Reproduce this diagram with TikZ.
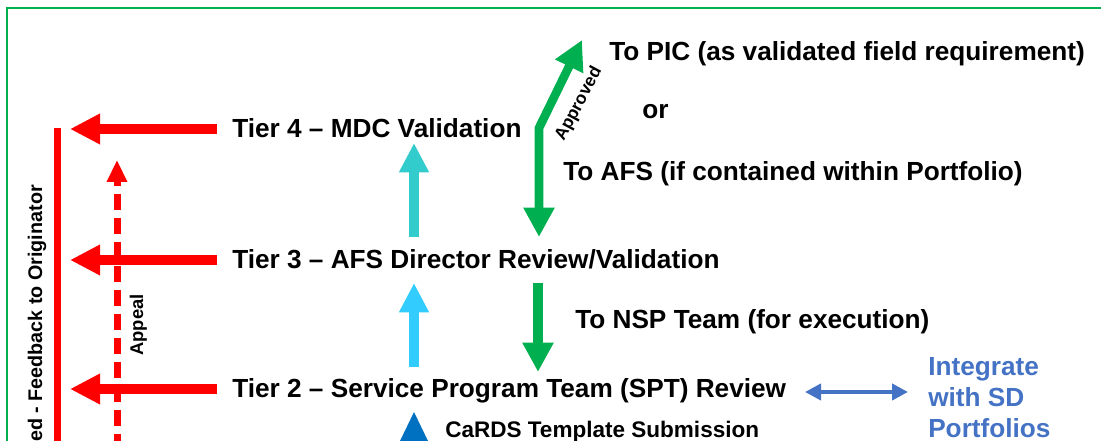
\documentclass[tikz,border=0pt]{standalone}
\usepackage{fontspec}
\setmainfont{Liberation Sans}
\usetikzlibrary{arrows.meta}
\definecolor{framegreen}{RGB}{0,176,80}
\definecolor{arrgreen}{RGB}{0,176,80}
\definecolor{arrred}{RGB}{255,0,0}
\definecolor{arrcyan}{RGB}{51,204,204}
\definecolor{arrsky}{RGB}{51,204,255}
\definecolor{sdblue}{RGB}{68,114,196}
\definecolor{triblue}{RGB}{0,112,192}
\tikzset{
  maintext/.style={inner sep=0pt, anchor=base west, font=\bfseries\fontsize{19.65pt}{23.25pt}\selectfont},
  smalltext/.style={inner sep=0pt, font=\bfseries\fontsize{14.8pt}{17pt}\selectfont},
  redarrow/.style={draw=arrred, line width=7.5pt, -{Triangle[length=22.5pt,width=21.5pt]}},
  bigarrow/.style={line width=7.5pt, -{Triangle[length=22pt,width=21pt]}},
  greenarrow/.style={draw=arrgreen, line width=6.5pt}
}
\begin{document}
\begin{tikzpicture}[x=0.75pt,y=-0.75pt]
\useasboundingbox (0,0) rectangle (1101,441);
\clip (0,0) rectangle (1101,441);
% frame
\draw[framegreen, line width=1.2pt] (7,450) -- (7,8) -- (1110,8);

% main texts
\node[maintext] (t4) at (232,138) {Tier 4 – MDC Validation};
\node[maintext] (t3) at (232,269) {Tier 3 – AFS Director Review/Validation};
\node[maintext] (t2) at (232,398) {Tier 2 – Service Program Team (SPT) Review};
\node[maintext] (pic) at (609,61) {To PIC (as validated field requirement)};
\node[maintext] (or) at (642,119) {or};
\node[maintext] (afs) at (563,181) {To AFS (if contained within Portfolio)};
\node[maintext] (nsp) at (575,329) {To NSP Team (for execution)};
\node[inner sep=0pt, anchor=north west, align=left, text=sdblue,
      font=\bfseries\fontsize{19.65pt}{23.25pt}\selectfont] (integ) at (928,357)
      {Integrate\\with SD\\Portfolios};
\node[inner sep=0pt, anchor=base west, font=\bfseries\fontsize{16.9pt}{20pt}\selectfont] (cards) at (445,438) {CaRDS Template Submission};

% rotated labels
\node[smalltext, rotate=90, anchor=base east] (feedback) at (42,185) {ed - Feedback to Originator};
\node[smalltext, font=\bfseries\fontsize{13.8pt}{16pt}\selectfont, rotate=90, anchor=base] (appeal) at (143,325) {Appeal};
\node[smalltext, font=\bfseries\fontsize{13pt}{15pt}\selectfont, rotate=62] (approved) at (579,104) {Approved};

% coordinates
\coordinate (r4s) at (217,129); \coordinate (r4e) at (70,129);
\coordinate (r3s) at (217,260); \coordinate (r3e) at (70,260);
\coordinate (r2s) at (217,389); \coordinate (r2e) at (70,389);
\coordinate (rvtop) at (57,128); \coordinate (rvbot) at (57,450);
\coordinate (apbot) at (117,450); \coordinate (aptop) at (117,160);
\coordinate (c1s) at (414,237); \coordinate (c1e) at (414,143);
\coordinate (c2s) at (414,367); \coordinate (c2e) at (414,283);
\coordinate (gtip) at (582,40); \coordinate (gbend) at (539,128); \coordinate (gdown) at (539,237);
\coordinate (g2s) at (538,283); \coordinate (g2e) at (538,372);
\coordinate (bl) at (805,392); \coordinate (br) at (908,392);

% red feedback
\draw[arrred, line width=5.25pt] (rvtop) -- (rvbot);
\draw[redarrow] (r4s) -- (r4e);
\draw[redarrow] (r3s) -- (r3e);
\draw[redarrow] (r2s) -- (r2e);
\draw[arrred, line width=5.25pt, dash pattern=on 12pt off 6pt, -{Triangle[length=16.5pt,width=14.5pt]}] (apbot) -- (aptop);

% upward arrows
\draw[bigarrow, draw=arrcyan, fill=arrcyan] (c1s) -- (c1e);
\draw[bigarrow, draw=arrsky, fill=arrsky] (c2s) -- (c2e);
\fill[triblue] (414,412) -- (428,441) -- (400,441) -- cycle;

% green arrows
\draw[greenarrow, {Triangle[length=22pt,width=22pt]}-{Triangle[length=22pt,width=22pt]}, line join=miter] (gtip) -- (gbend) -- (gdown);
\draw[draw=arrgreen, line width=7.5pt, -{Triangle[length=22pt,width=22pt]}] (g2s) -- (g2e);

% blue double arrow
\draw[draw=sdblue, line width=3.2pt, {Triangle[length=12pt,width=12pt]}-{Triangle[length=12pt,width=12pt]}] (bl) -- (br);
\end{tikzpicture}
\end{document}
